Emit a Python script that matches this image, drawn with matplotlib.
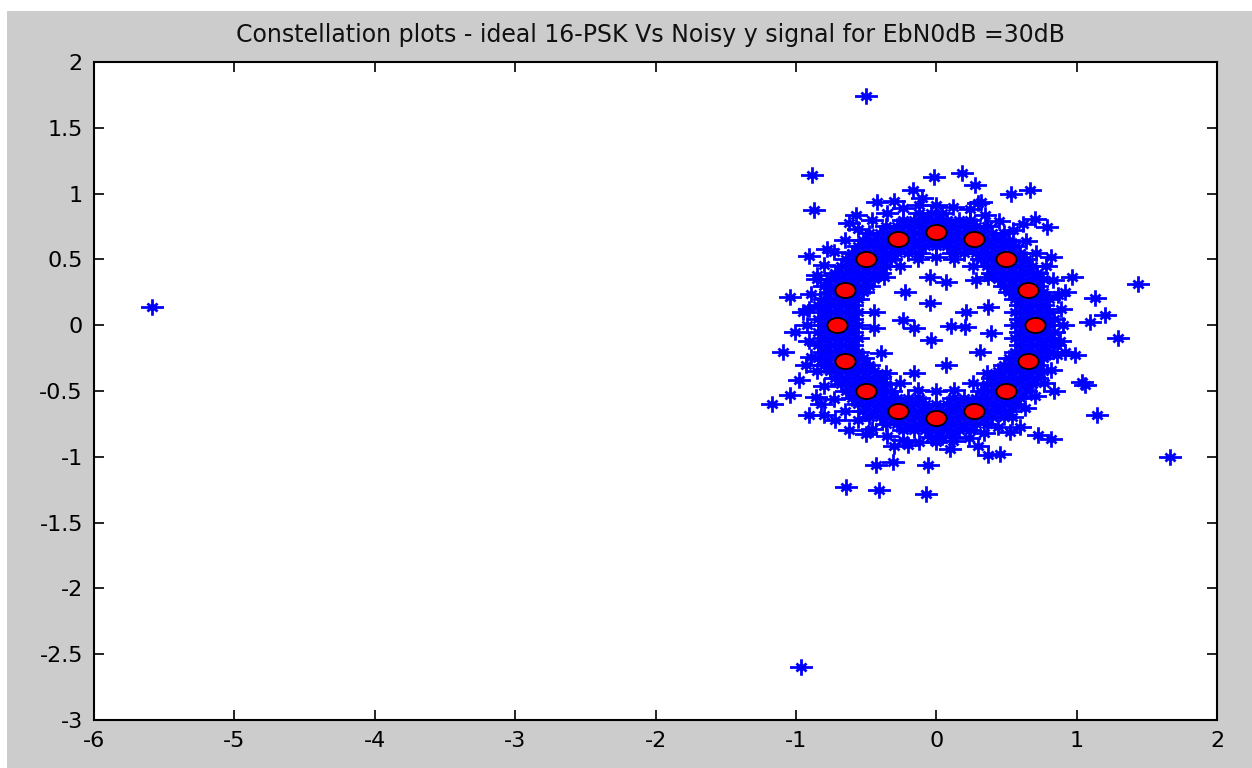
import matplotlib
matplotlib.use("Agg")
import matplotlib.pyplot as plt
from matplotlib.path import Path
from matplotlib.patches import Rectangle
from matplotlib.transforms import Affine2D

# ---------------- data ----------------
title_text = "Constellation plots - ideal 16-PSK Vs Noisy y signal for EbN0dB =30dB"

x_ticks = [-6, -5, -4, -3, -2, -1, 0, 1, 2]
x_tick_labels = ["-6", "-5", "-4", "-3", "-2", "-1", "0", "1", "2"]
y_ticks = [-3, -2.5, -2, -1.5, -1, -0.5, 0, 0.5, 1, 1.5, 2]
y_tick_labels = ["-3", "-2.5", "-2", "-1.5", "-1", "-0.5", "0", "0.5", "1", "1.5", "2"]

# ideal 16-PSK constellation points
ideal_i = [0.707, 0.653, 0.5, 0.271, 0.0, -0.271, -0.5, -0.653,
           -0.707, -0.653, -0.5, -0.271, 0.0, 0.271, 0.5, 0.653]
ideal_q = [0.0, 0.271, 0.5, 0.653, 0.707, 0.653, 0.5, 0.271,
           0.0, -0.271, -0.5, -0.653, -0.707, -0.653, -0.5, -0.271]

# dense ring of noisy received samples (estimated, row by row)
ring_row_y = [0.85, 0.80, 0.75, 0.70, 0.65, 0.60, 0.55, 0.50, 0.45, 0.40, 0.35, 0.30,
              0.25, 0.20, 0.15, 0.10, 0.05, 0.00, -0.05, -0.10, -0.15, -0.20, -0.25,
              -0.30, -0.35, -0.40, -0.45, -0.50, -0.55, -0.60, -0.65, -0.70, -0.75,
              -0.80, -0.85]
ring_row_x = [
    [-0.12, -0.04, 0.04],
    [-0.24, -0.16, -0.08, 0.0, 0.08, 0.16, 0.24],
    [-0.36, -0.28, -0.20, -0.12, -0.04, 0.04, 0.12, 0.20, 0.28, 0.36],
    [-0.48, -0.40, -0.32, -0.24, -0.16, -0.08, 0.0, 0.08, 0.16, 0.24, 0.32, 0.40, 0.48],
    [-0.52, -0.44, -0.36, -0.28, -0.20, -0.12, -0.04, 0.04, 0.12, 0.20, 0.28, 0.36, 0.44, 0.52],
    [-0.56, -0.48, -0.40, -0.32, -0.24, -0.16, -0.08, 0.0, 0.08, 0.16, 0.24, 0.32, 0.40, 0.48, 0.56],
    [-0.60, -0.52, -0.44, -0.36, -0.28, -0.20, -0.12, 0.12, 0.20, 0.28, 0.36, 0.44, 0.52, 0.60],
    [-0.64, -0.56, -0.48, -0.40, -0.32, 0.32, 0.40, 0.48, 0.56, 0.64],
    [-0.68, -0.60, -0.52, -0.44, -0.36, 0.36, 0.44, 0.52, 0.60, 0.68],
    [-0.72, -0.64, -0.56, -0.48, -0.40, 0.40, 0.48, 0.56, 0.64, 0.72],
    [-0.76, -0.68, -0.60, -0.52, -0.44, 0.44, 0.52, 0.60, 0.68, 0.76],
    [-0.80, -0.72, -0.64, -0.56, -0.48, 0.48, 0.56, 0.64, 0.72],
    [-0.76, -0.68, -0.60, -0.52, 0.52, 0.60, 0.68, 0.76],
    [-0.80, -0.72, -0.64, -0.56, 0.56, 0.64, 0.72, 0.80],
    [-0.84, -0.76, -0.68, -0.60, 0.60, 0.68, 0.76],
    [-0.80, -0.72, -0.64, -0.56, 0.56, 0.64, 0.72, 0.80],
    [-0.84, -0.76, -0.68, -0.60, 0.60, 0.68, 0.76, 0.84],
    [-0.80, -0.72, -0.64, -0.56, 0.56, 0.64, 0.72, 0.80],
    [-0.84, -0.76, -0.68, -0.60, 0.60, 0.68, 0.76, 0.84],
    [-0.80, -0.72, -0.64, -0.56, 0.56, 0.64, 0.72, 0.80],
    [-0.84, -0.76, -0.68, -0.60, 0.60, 0.68, 0.76, 0.84],
    [-0.80, -0.72, -0.64, -0.56, 0.56, 0.64, 0.72, 0.80],
    [-0.84, -0.76, -0.68, -0.60, -0.52, 0.52, 0.60, 0.68, 0.76],
    [-0.80, -0.72, -0.64, -0.56, -0.48, 0.48, 0.56, 0.64, 0.72],
    [-0.76, -0.68, -0.60, -0.52, -0.44, 0.44, 0.52, 0.60, 0.68, 0.76],
    [-0.72, -0.64, -0.56, -0.48, -0.40, 0.40, 0.48, 0.56, 0.64, 0.72],
    [-0.68, -0.60, -0.52, -0.44, -0.36, 0.36, 0.44, 0.52, 0.60, 0.68],
    [-0.64, -0.56, -0.48, -0.40, -0.32, 0.32, 0.40, 0.48, 0.56, 0.64],
    [-0.60, -0.52, -0.44, -0.36, -0.28, -0.20, -0.12, 0.12, 0.20, 0.28, 0.36, 0.44, 0.52, 0.60],
    [-0.56, -0.48, -0.40, -0.32, -0.24, -0.16, -0.08, 0.0, 0.08, 0.16, 0.24, 0.32, 0.40, 0.48, 0.56],
    [-0.52, -0.44, -0.36, -0.28, -0.20, -0.12, -0.04, 0.04, 0.12, 0.20, 0.28, 0.36, 0.44, 0.52],
    [-0.48, -0.40, -0.32, -0.24, -0.16, -0.08, 0.0, 0.08, 0.16, 0.24, 0.32, 0.40, 0.48],
    [-0.36, -0.28, -0.20, -0.12, -0.04, 0.04, 0.12, 0.20, 0.28, 0.36],
    [-0.24, -0.16, -0.08, 0.0, 0.08, 0.16, 0.24],
    [-0.04, 0.04, 0.12],
]

# outer layer of the ring
ring_outer_x = [0.90, 0.89, 0.87, 0.83, 0.78, 0.71, 0.64, 0.55, 0.45, 0.35, 0.24, 0.12, 0.0,
                -0.12, -0.24, -0.35, -0.46, -0.56, -0.65, -0.73, -0.80, -0.85, -0.89, -0.91, -0.92,
                -0.91, -0.89, -0.85, -0.80, -0.73, -0.65, -0.56, -0.46, -0.35, -0.24, -0.12, 0.0,
                0.12, 0.23, 0.34, 0.44, 0.54, 0.63, 0.70, 0.77, 0.82, 0.86, 0.88]
ring_outer_y = [0.0, 0.12, 0.23, 0.34, 0.45, 0.55, 0.64, 0.72, 0.79, 0.84, 0.88, 0.90, 0.91,
                0.91, 0.89, 0.85, 0.80, 0.73, 0.65, 0.56, 0.46, 0.35, 0.24, 0.12, 0.0,
                -0.12, -0.24, -0.35, -0.46, -0.56, -0.65, -0.72, -0.79, -0.84, -0.87, -0.89, -0.89,
                -0.88, -0.86, -0.82, -0.77, -0.70, -0.63, -0.54, -0.44, -0.34, -0.23, -0.12]

# inner layer of the ring (top and bottom of the hole)
ring_inner_x = [0.37, 0.26, 0.13, 0.0, -0.13, -0.26, -0.37,
                0.36, 0.26, 0.13, 0.0, -0.13, -0.26, -0.36]
ring_inner_y = [0.37, 0.45, 0.50, 0.52, 0.50, 0.45, 0.37,
                -0.36, -0.44, -0.49, -0.50, -0.49, -0.44, -0.36]

# ragged fringe of the ring
fringe_x = [-0.78, -0.85, -0.95, -0.93, -0.82, -0.62, -0.30, 0.30, 0.60, 0.84, 0.92, 0.92,
            0.82, 0.62, 0.30, -0.30, -0.62, -0.72, 0.10, -0.10]
fringe_y = [0.58, 0.38, 0.10, -0.30, -0.60, -0.80, -0.92, -0.92, -0.77, -0.50, -0.20, 0.25,
            0.52, 0.77, 0.93, 0.94, 0.78, -0.72, -0.94, 0.97]

# samples inside the ring hole
hole_x = [-0.048, 0.071, -0.226, -0.048, 0.214, -0.44, -0.238, -0.155, 0.107, 0.202,
          -0.036, 0.071, 0.31, -0.393, -0.44, -0.155, 0.393, 0.286, 0.369]
hole_y = [0.367, 0.329, 0.253, 0.165, 0.101, 0.10, 0.038, -0.025, -0.008, -0.013,
          -0.114, -0.304, -0.203, -0.215, -0.025, -0.367, -0.063, 0.342, 0.139]

# scattered outliers
outlier_x = [-5.586, -0.5, -0.964, 1.664, 1.44,
             -0.888, -0.869, -0.019, 0.186, -0.167, 0.274, 0.531, 0.667, 0.321, -0.421,
             -0.571, 0.702, 0.786, -0.905, 0.964, 1.131, 1.202, 1.095, 1.298, 0.988,
             1.06, 1.143, -1.04, -1.005, -1.095, -0.976, -1.04, -1.167, -0.905, -0.798,
             -0.857, -0.5, -0.643, -0.405, -0.429, -0.31, -0.071, -0.06, -0.202, 0.369,
             0.452, 0.726, 0.821, 0.524, 1.036]
outlier_y = [0.137, 1.74, -2.6, -1.005, 0.31,
             1.14, 0.874, 1.127, 1.157, 1.026, 1.064, 1.0, 1.026, 0.937, 0.937,
             0.836, 0.81, 0.747, 0.524, 0.367, 0.203, 0.076, 0.025, -0.101, -0.228,
             -0.456, -0.684, 0.215, -0.051, -0.203, -0.418, -0.532, -0.595, -0.684, -0.684,
             -0.545, -0.823, -1.229, -1.254, -1.064, -1.039, -1.279, -1.064, -0.912, -0.988,
             -0.975, -0.836, -0.861, -0.81, -0.43]

# ---------------- assemble noisy series ----------------
noisy_x = []
noisy_y = []
for yv, row in zip(ring_row_y, ring_row_x):
    noisy_x.extend(row)
    noisy_y.extend([yv] * len(row))
noisy_x += ring_outer_x + ring_inner_x + fringe_x + hole_x + outlier_x
noisy_y += ring_outer_y + ring_inner_y + fringe_y + hole_y + outlier_y

# ---------------- markers ----------------
MV, LT = Path.MOVETO, Path.LINETO
asterisk = Path(
    [(-1, 0), (1, 0), (0, -0.72), (0, 0.72),
     (-0.45, -0.34), (0.45, 0.34), (-0.45, 0.34), (0.45, -0.34)],
    [MV, LT, MV, LT, MV, LT, MV, LT],
)
ellipse = Affine2D().scale(1.0, 0.75).transform_path(Path.unit_circle())

# ---------------- figure ----------------
W, H = 1252, 768
fig = plt.figure(figsize=(W / 100, H / 100), dpi=100, facecolor="white")
fig.add_artist(Rectangle((7 / W, 0), 1 - 7 / W, 1 - 11 / H, transform=fig.transFigure,
                         facecolor="#cccccc", edgecolor="none", zorder=-5))

ax = fig.add_axes([94 / W, (H - 720) / H, (1217 - 94) / W, (720 - 62) / H])
ax.set_facecolor("white")

ax.plot(noisy_x, noisy_y, linestyle="none", marker=asterisk, markersize=16.5,
        markeredgecolor="#0000ff", markerfacecolor="none", markeredgewidth=2.0,
        antialiased=False, zorder=2)
ax.plot(ideal_i, ideal_q, linestyle="none", marker=ellipse, markersize=14.5,
        markerfacecolor="#ff0000", markeredgecolor="black", markeredgewidth=1.3, zorder=3)

ax.set_xlim(-6, 2)
ax.set_ylim(-3, 2)
ax.set_xticks(x_ticks)
ax.set_xticklabels(x_tick_labels)
ax.set_yticks(y_ticks)
ax.set_yticklabels(y_tick_labels)
ax.tick_params(direction="in", length=7, width=1.2, top=True, right=True,
               labelsize=16, pad=8, colors="black")
for s in ax.spines.values():
    s.set_linewidth(1.5)
    s.set_color("black")

fig.text(650 / W, 1 - 35 / H, title_text, ha="center", va="center", fontsize=17,
         color="#111111")

fig.savefig("out.png", dpi=100, facecolor=fig.get_facecolor())
